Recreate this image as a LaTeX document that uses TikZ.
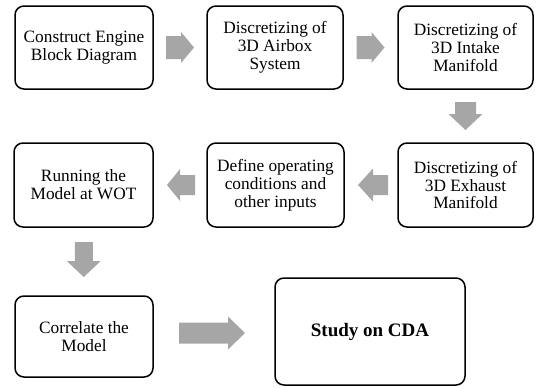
\documentclass[tikz,border=0pt]{standalone}
\usepackage{fontspec}
\setmainfont{Liberation Serif}
\usetikzlibrary{calc}
\definecolor{arrowgray}{HTML}{A6A6A6}
\tikzset{
  box/.style={draw=black, line width=1.5pt, rounded corners=9pt, align=center,
    font=\fontsize{17.3}{17.8}\selectfont, inner sep=0pt},
  pics/barrow/.style n args={4}{code={
    \fill[arrowgray] (-#1/2,-#3/2) -- (#1/2-#2,-#3/2) -- (#1/2-#2,-#4/2) -- (#1/2,0)
      -- (#1/2-#2,#4/2) -- (#1/2-#2,#3/2) -- (-#1/2,#3/2) -- cycle;}}
}
\begin{document}
\begin{tikzpicture}[x=1pt,y=-1pt]
\useasboundingbox (0,0) rectangle (536,388);
% row 1
\node[box, minimum width=138pt, minimum height=83pt] (b1) at (84,47.5) {Construct Engine\\Block Diagram};
\node[box, minimum width=136pt, minimum height=83pt] (b2) at (275,47.5) {Discretizing of\\3D Airbox\\System};
\node[box, minimum width=135pt, minimum height=83pt] (b3) at (465.5,47.5) {Discretizing of\\3D Intake\\Manifold};
% row 2
\node[box, minimum width=139pt, minimum height=84pt] (b4) at (83.5,185) {Running the\\Model at WOT};
\node[box, minimum width=137pt, minimum height=84pt] (b5) at (275.5,185) {Define operating\\conditions and\\other inputs};
\node[box, minimum width=135pt, minimum height=84pt] (b6) at (465.5,185) {Discretizing of\\3D Exhaust\\Manifold};
% row 3
\node[box, minimum width=138pt, minimum height=81pt] (b7) at (84,336.5) {Correlate the\\Model};
\node[box, minimum width=190pt, minimum height=107pt, font=\fontsize{19}{20}\selectfont\bfseries] (b8) at (370,331.5) {Study on CDA};
% block arrows
\pic at ($(b1.east)!0.5!(b2.west)$) {barrow={28}{13}{23}{31}};
\pic at ($(b2.east)!0.5!(b3.west)$) {barrow={28}{13}{23}{31}};
\pic[rotate=-90] at ($(b3.south)!0.5!(b6.north)$) {barrow={28}{16}{21}{34}};
\pic[rotate=180] at ($(b6.west)!0.5!(b5.east)+(2,0)$) {barrow={30}{15}{20}{33}};
\pic[rotate=180] at ($(b5.west)!0.5!(b4.east)+(1,0)$) {barrow={28}{13}{20}{32}};
\pic[rotate=-90] at ($(b4.south)!0.5!(b7.north)+(0,-2)$) {barrow={35}{16}{18}{34}};
\pic at ($(b7.east)!0.5!(b8.west)+(-2,-1)$) {barrow={66}{17}{21}{33}};
\end{tikzpicture}
\end{document}
